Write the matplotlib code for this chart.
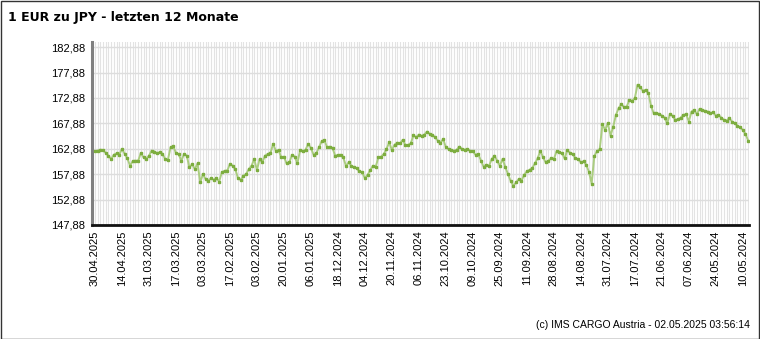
import matplotlib
matplotlib.use("Agg")
import matplotlib.pyplot as plt
from matplotlib.patches import Rectangle

# ---- data (most recent first, left to right) ----
seg1 = [162.37, 162.51, 162.70, 162.64, 162.04, 161.52, 160.86, 161.71, 161.98, 161.71,
        162.83, 161.91, 160.99, 159.54, 160.46, 160.53, 160.53, 162.04, 161.19, 160.86,
        161.52, 162.51, 162.31, 162.04, 162.18, 161.91, 160.86, 160.66, 163.16, 163.36,
        162.04, 161.78, 160.53, 161.85, 161.52, 159.21, 159.87, 158.88, 160.00, 156.25,
        157.89, 156.90, 156.58, 157.10, 156.77, 157.10, 156.44, 158.22, 158.55, 158.55,
        159.87, 159.54, 158.88, 157.04, 156.77, 157.56, 157.89, 158.88, 159.54, 160.86,
        158.68]
seg2 = [160.86, 160.20, 161.52, 161.85, 162.04, 163.82, 162.50, 162.64, 161.19, 161.32,
        160.00, 160.20, 161.65, 161.32, 160.00, 162.64, 162.37, 162.70, 163.82, 163.03,
        161.71, 161.98, 163.16, 164.35, 164.61, 163.16, 163.29, 163.03, 161.52, 161.65,
        161.71, 161.19, 159.47, 160.20, 159.54, 159.21, 159.01, 158.42, 158.22, 157.10,
        157.76, 158.68, 159.54, 159.34, 161.19, 161.32, 161.85, 162.83, 164.15, 162.64,
        163.69, 164.09, 163.95, 164.61, 163.62, 163.62, 163.95, 165.53, 165.14, 165.67,
        165.40]
seg3 = [165.67, 166.26, 165.80, 165.60, 165.14, 164.48, 164.02, 164.81, 163.16, 162.83,
        162.64, 162.50, 162.70, 163.30, 162.83, 162.70, 162.83, 162.50, 162.37, 161.71,
        161.85, 160.53, 159.34, 159.74, 159.54, 160.86, 161.52, 160.53, 159.54, 160.86,
        159.34, 157.89, 156.57, 155.59, 156.25, 156.90, 156.57, 157.76, 158.42, 158.75,
        159.08, 160.00, 160.99, 162.50, 161.19, 160.20, 160.53, 160.99, 160.86, 162.37,
        162.18, 161.98, 160.99, 162.64, 162.04, 161.85, 160.99, 160.86, 160.20, 160.40,
        159.74]
seg4 = [158.34, 156.04, 161.44, 162.43, 162.82, 167.70, 166.58, 167.90, 165.46, 167.24,
        169.54, 170.86, 171.65, 171.06, 171.19, 172.51, 172.31, 172.84, 175.47, 174.95,
        174.29, 174.49, 173.83, 171.32, 169.87, 169.87, 169.74, 169.41, 169.02, 167.90,
        169.68, 169.35, 168.56, 168.69, 169.02, 169.54, 169.68, 168.23, 170.20, 170.53,
        169.68, 170.73, 170.53, 170.34, 170.20, 169.87, 170.07, 169.41, 169.54, 169.02,
        168.56, 168.43, 168.89, 168.23, 167.90, 167.44, 167.11, 166.58, 165.79, 164.47]
rates = seg1 + seg2 + seg3 + seg4

date_labels = ["30.04.2025", "14.04.2025", "31.03.2025", "17.03.2025", "03.03.2025",
               "17.02.2025", "03.02.2025", "20.01.2025", "06.01.2025", "18.12.2024",
               "04.12.2024", "20.11.2024", "06.11.2024", "23.10.2024", "09.10.2024",
               "25.09.2024", "11.09.2024", "28.08.2024", "14.08.2024", "31.07.2024",
               "17.07.2024", "21.06.2024", "07.06.2024", "24.05.2024", "10.05.2024"]
y_ticks = [147.88, 152.88, 157.88, 162.88, 167.88, 172.88, 177.88, 182.88]
y_labels = ["147,88", "152,88", "157,88", "162,88", "167,88", "172,88", "177,88", "182,88"]

title = "1 EUR zu JPY - letzten 12 Monate"
footer = "(c) IMS CARGO Austria - 02.05.2025 03:56:14"

# ---- figure ----
W, H = 760, 339
fig = plt.figure(figsize=(W / 100, H / 100), dpi=100)
fig.patch.set_facecolor("white")

ax = fig.add_axes([92 / W, 1 - 225 / H, (749 - 92) / W, (225 - 42) / H])
n = len(rates)
xs = list(range(n))

ax.set_xlim(-1.1, n - 0.7)
ax.set_ylim(147.88, 183.9)

# grid
ax.set_xticks(xs, minor=True)
ax.set_xticks(list(range(0, n, 10))[:len(date_labels)])
ax.set_xticklabels(date_labels, rotation=90, fontsize=8, family="Liberation Sans")
ax.set_yticks(y_ticks)
ax.set_yticklabels(y_labels, fontsize=8, family="Liberation Sans")
ax.grid(which="minor", axis="x", color="#e3e3e3", lw=0.8)
ax.grid(which="major", axis="x", color="#e3e3e3", lw=0.8)
ax.grid(which="major", axis="y", color="#dddddd", lw=1.0)
ax.set_axisbelow(True)
ax.tick_params(which="both", length=0)
ax.tick_params(axis="y", pad=5)
ax.tick_params(axis="x", pad=4)

for s in ("top", "right"):
    ax.spines[s].set_visible(False)
ax.spines["left"].set_color("#808080")
ax.spines["left"].set_linewidth(2.2)
ax.spines["bottom"].set_color("#111111")
ax.spines["bottom"].set_linewidth(2.0)

ax.plot(xs, rates, color="#abcd80", lw=1.4, marker="s", markersize=1.7,
        markerfacecolor="#7dad3f", markeredgecolor="#7dad3f", zorder=3)

fig.text(8 / W, 1 - 17 / H, title, fontsize=9, fontweight="bold",
         family="DejaVu Sans", ha="left", va="center")
fig.text(750 / W, 1 - 325 / H, footer, fontsize=7.5, family="Liberation Sans",
         ha="right", va="center")

fig.patches.append(Rectangle((0.5 / W, 0.5 / H), 1 - 1.5 / W, 1 - 1.5 / H,
                             transform=fig.transFigure, fill=False,
                             edgecolor="#333333", lw=1.0))

fig.savefig("out.png", dpi=100, facecolor="white")
